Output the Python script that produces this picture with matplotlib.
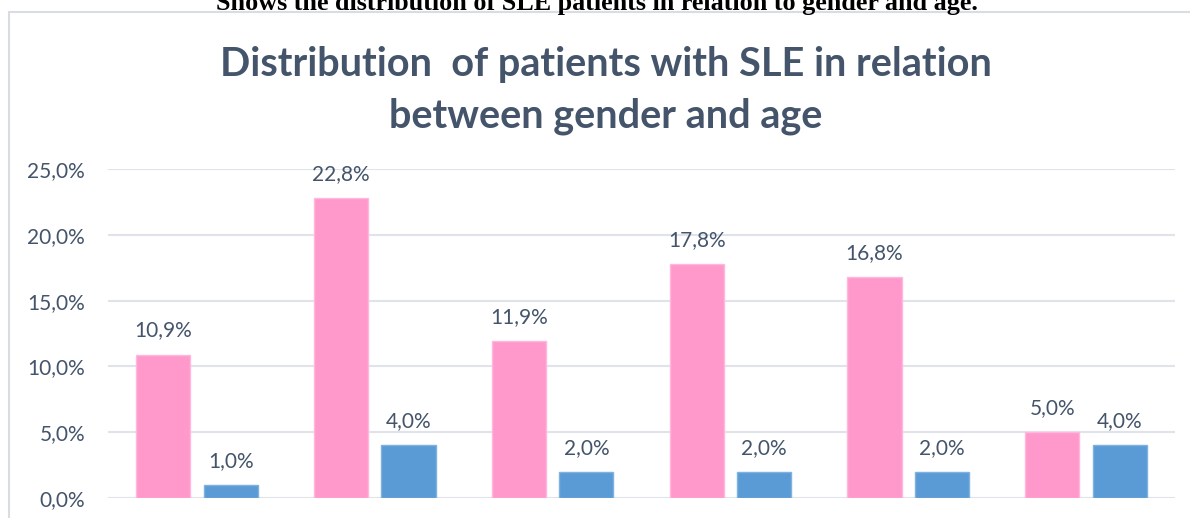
import matplotlib
matplotlib.use("Agg")
import matplotlib.pyplot as plt
from matplotlib.patches import Rectangle
import numpy as np

# Data
groups = ["G1", "G2", "G3", "G4", "G5", "G6"]
female = [10.9, 22.8, 11.9, 17.8, 16.8, 5.0]
male = [1.0, 4.0, 2.0, 2.0, 2.0, 4.0]
yticks = [0, 5, 10, 15, 20, 25]

caption = "Shows the distribution of SLE patients in relation to gender and age."
title = "Distribution  of patients with SLE in relation\nbetween gender and age"

text_color = "#44546A"
pink = "#FF99CC"
blue = "#5B9BD5"
grid_color = "#E0E4EA"

W, H = 1190, 518
fig = plt.figure(figsize=(W / 100, H / 100), dpi=100)

# Chart border
fig.add_artist(Rectangle((8.5 / W, -0.1), 1.2, 1 - 12 / H + 0.1, transform=fig.transFigure,
                         fill=False, edgecolor="#D9DDE3", linewidth=1.5))

# Caption (cut off at top)
fig.text(597 / W, 1 - 10 / H, caption, ha="center", va="baseline",
         family="Liberation Serif", fontweight="bold", fontsize=18.8, color="black")

# Title
fig.text(606 / W, 1 - 127 / H, title, ha="center", va="baseline", family="Lato",
         fontweight="bold", fontsize=28.5, color=text_color, linespacing=1.46)

ax = fig.add_axes([108 / W, 20 / H, 1067 / W, (498 - 169) / H])
x = np.arange(len(groups))
bw = 0.305
off = 0.19
b1 = ax.bar(x - off, female, bw, color=pink, edgecolor="#FFB8DC", linewidth=1, zorder=3, label="Female")
b2 = ax.bar(x + off, male, bw, color=blue, edgecolor="#7FB2E0", linewidth=1, zorder=3, label="Male")

for bars, vals in ((b1, female), (b2, male)):
    for r, v in zip(bars, vals):
        ax.annotate(f"{v:.1f}%".replace(".", ","), (r.get_x() + r.get_width() / 2, v),
                    xytext=(0, 13), textcoords="offset points", ha="center", va="baseline",
                    family="Lato", fontsize=15, color=text_color)

ax.set_xlim(-0.5, len(groups) - 0.5)
ax.set_ylim(0, 25)
ax.set_yticks(yticks)
ax.set_yticklabels([f"{t:.1f}%".replace(".", ",") for t in yticks], family="Lato",
                   fontsize=15, color=text_color)
ax.tick_params(axis="y", length=0, pad=16.5)
ax.set_xticks([])
ax.grid(axis="y", color=grid_color, linewidth=1.5, zorder=0)
ax.set_axisbelow(True)
for s in ax.spines.values():
    s.set_visible(False)

fig.savefig("out.png", dpi=100)
